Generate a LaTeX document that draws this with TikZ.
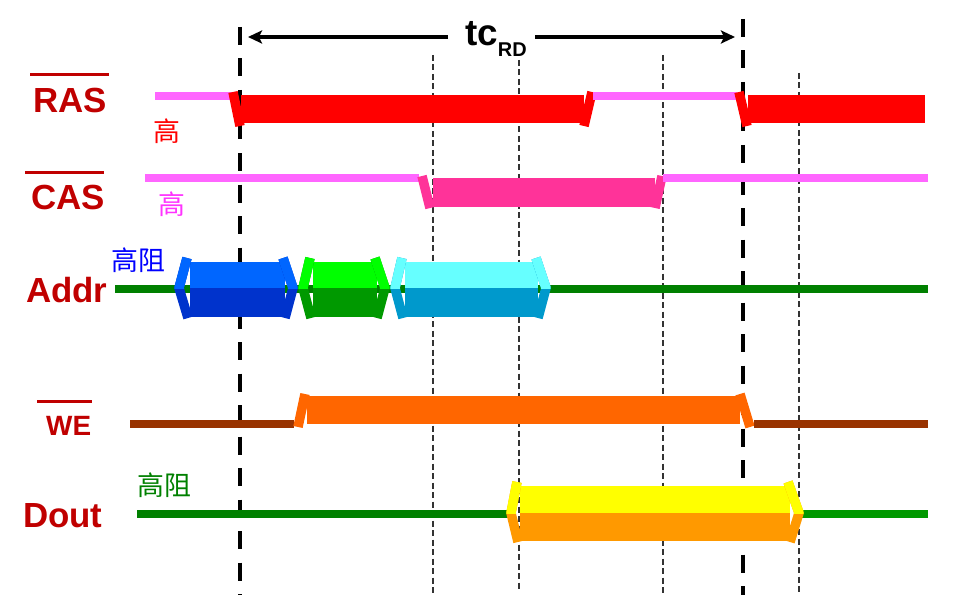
\documentclass[tikz,border=0pt]{standalone}
\usepackage{fontspec}
\setmainfont{Liberation Sans}
\newfontfamily\cjk{Noto Sans CJK SC}
\usetikzlibrary{arrows.meta}
\definecolor{lblred}{HTML}{C00000}
\definecolor{pinkc}{HTML}{FF66FF}
\definecolor{pinktxt}{HTML}{FF33FF}
\definecolor{casc}{HTML}{FF3399}
\definecolor{sigred}{HTML}{FF0000}
\definecolor{brownc}{HTML}{993300}
\definecolor{orangec}{HTML}{FF6600}
\definecolor{dgreen}{HTML}{008000}
\definecolor{mgreen}{HTML}{009900}
\definecolor{dgray}{HTML}{333333}
\definecolor{blueL}{HTML}{0066FF}
\definecolor{blueD}{HTML}{0033CC}
\definecolor{greenL}{HTML}{00FF00}
\definecolor{greenD}{HTML}{009900}
\definecolor{cyanL}{HTML}{66FFFF}
\definecolor{cyanD}{HTML}{0099CC}
\definecolor{yelL}{HTML}{FFFF00}
\definecolor{yelD}{HTML}{FF9900}
\newcommand\busseg[9]{%
  \fill[#8] (#1,#3) rectangle (#2,#4);
  \fill[#9] (#1,#4) rectangle (#2,#5);
  \draw[edgestroke,#9] (#1-3,#3-4) -- (#6,#4) -- (#1-2,#5+1);
  \draw[edgestroke,#9] (#2-2,#3-4) -- (#7,#4) -- (#2,#5+1);
  \begin{scope}
    \clip (#6-12,#3-12) rectangle (#7+12,#4);
    \draw[edgestroke,#8] (#1-3,#3-4) -- (#6,#4) -- (#1-2,#5+1);
    \draw[edgestroke,#8] (#2-2,#3-4) -- (#7,#4) -- (#2,#5+1);
  \end{scope}
}
\begin{document}
\begin{tikzpicture}[x=1bp,y=-1bp,
  sigline/.style={line width=8.5bp},
  edgestroke/.style={line width=9.5bp, line join=bevel},
  thickdash/.style={line width=4.5bp, dash pattern=on 18bp off 13.5bp},
  thindash/.style={line width=1.4bp, draw=dgray, dash pattern=on 6bp off 3.5bp},
  lbl/.style={font=\bfseries\fontsize{35}{35}\selectfont, text=lblred, inner sep=0, anchor=base west},
  ovl/.style={line width=3bp, draw=lblred},
  cn/.style={font=\cjk\fontsize{27}{27}\selectfont, inner sep=0},
]
\useasboundingbox (0,0) rectangle (957,595);

% vertical reference lines
\draw[thindash] (433,55) -- (433,595);
\draw[thindash] (519,60) -- (519,592);
\draw[thindash] (663,55) -- (663,595);
\draw[thindash] (799,73) -- (799,595);
\draw[thickdash] (240,27) -- (240,595);
\draw[thickdash] (743,19) -- (743,595);

% RAS
\draw[sigline,pinkc] (155,96) -- (233,96);
\draw[edgestroke,sigred] (233,92) -- (240,126);
\fill[sigred] (241,95) rectangle (584,123);
\draw[edgestroke,sigred] (584,126) -- (592,92);
\draw[sigline,pinkc] (593,96) -- (737,96);
\draw[edgestroke,sigred] (739,92) -- (747,126);
\fill[sigred] (748,95) rectangle (925,123);

% CAS
\draw[sigline,pinkc] (145,178) -- (419,178);
\draw[edgestroke,casc] (422,176) -- (430,208);
\fill[casc] (433,178) rectangle (655,207);
\draw[edgestroke,casc] (655,208) -- (662,176);
\draw[sigline,pinkc] (663,178) -- (928,178);

% Addr
\draw[sigline,dgreen] (115,289) -- (928,289);
\busseg{190}{285}{262}{288}{317}{179}{293}{blueL}{blueD}
\busseg{313}{377}{262}{288}{317}{303}{385}{greenL}{greenD}
\busseg{405}{538}{262}{288}{317}{395}{546}{cyanL}{cyanD}

% WE
\draw[sigline,brownc] (130,424) -- (294,424);
\draw[edgestroke,orangec] (298,427) -- (305,394);
\fill[orangec] (307,396) rectangle (740,424);
\draw[edgestroke,orangec] (740,394) -- (750,427);
\draw[sigline,brownc] (754,424) -- (928,424);

% Dout
\draw[sigline,dgreen] (137,514) -- (512,514);
\draw[sigline,mgreen] (796,514) -- (928,514);
\busseg{520}{790}{486}{513}{541}{511}{799}{yelL}{yelD}

% tc_RD arrow
\node[inner sep=0, anchor=base west] (tc) at (465,46)
  {\bfseries\fontsize{37}{37}\selectfont tc\raisebox{-11bp}{\fontsize{20}{20}\selectfont RD}};
\coordinate (al) at (248,37);
\coordinate (ar) at (735,37);
\coordinate (tl) at (448,37);
\coordinate (tr) at (535,37);
\draw[line width=3.3bp, -{Stealth[length=14bp,width=13bp,inset=3bp]}] (tl) -- (al);
\draw[line width=3.3bp, -{Stealth[length=14bp,width=13bp,inset=3bp]}] (tr) -- (ar);

% labels
\node[lbl] (ras) at (33,113) {RAS};
\draw[ovl] (30,75) -- (109,75);
\node[lbl] (cas) at (31,210) {CAS};
\draw[ovl] (25,173) -- (104,173);
\node[lbl] (addr) at (26,302) {Addr};
\node[lbl, font=\bfseries\fontsize{28}{28}\selectfont] (we) at (46,435) {WE};
\draw[ovl] (37,401) -- (92,401);
\node[lbl] (dout) at (23,527) {Dout};

\node[cn, text=sigred] (hi1) at (167,131) {高};
\node[cn, text=pinktxt] (hi2) at (172,204) {高};
\node[cn, text=blue] (hz1) at (138,260) {高阻};
\node[cn, text=dgreen] (hz2) at (164,485) {高阻};
\end{tikzpicture}
\end{document}
